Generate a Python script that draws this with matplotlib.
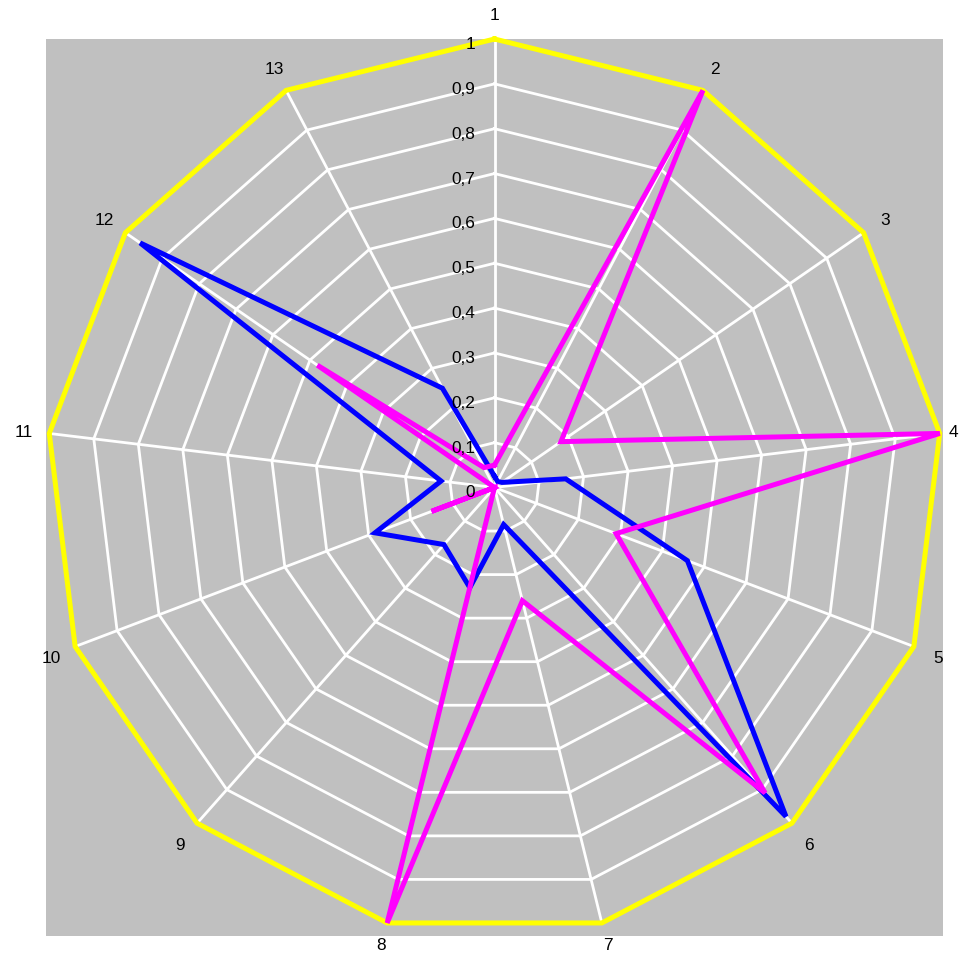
import numpy as np
import matplotlib
matplotlib.use("Agg")
import matplotlib.pyplot as plt

plt.rcParams['font.family'] = ['Liberation Sans', 'DejaVu Sans']

categories = ['1', '2', '3', '4', '5', '6', '7', '8', '9', '10', '11', '12', '13']
series_yellow = [1.0, 1.0, 1.0, 1.0, 1.0, 1.0, 1.0, 1.0, 1.0, 1.0, 1.0, 1.0, 1.0]
series_blue = [0.025, 0.015, 0.02, 0.16, 0.46, 0.98, 0.085, 0.23, 0.17, 0.285, 0.12, 0.96, 0.25]
series_magenta = [0.05, 1.0, 0.18, 1.0, 0.29, 0.91, 0.26, 1.0, 0.0, 0.15, 0.0, 0.48, 0.05]
tick_values = [0, 0.1, 0.2, 0.3, 0.4, 0.5, 0.6, 0.7, 0.8, 0.9, 1]
tick_labels = ['0', '0,1', '0,2', '0,3', '0,4', '0,5', '0,6', '0,7', '0,8', '0,9', '1']

n = len(categories)
theta = 2 * np.pi * np.arange(n) / n
sx = np.sin(theta)
sy = np.cos(theta)

fig = plt.figure(figsize=(9.59, 9.54), dpi=100)
ax = fig.add_axes([46 / 959, (954 - 937) / 954, 897 / 959, 897 / 954])
ax.set_xlim(-1, 1)
ax.set_ylim(-1, 1)
ax.set_facecolor('#c0c0c0')
for s in ax.spines.values():
    s.set_visible(False)
ax.set_xticks([])
ax.set_yticks([])

# web grid
for v in tick_values[1:]:
    xs = np.append(v * sx, v * sx[0])
    ys = np.append(v * sy, v * sy[0])
    ax.plot(xs, ys, color='white', lw=2, zorder=1)
for k in range(n):
    ax.plot([0, sx[k]], [0, sy[k]], color='white', lw=2, zorder=1)


def draw(vals, color, z):
    v = np.array(vals)
    xs = np.append(v * sx, v[0] * sx[0])
    ys = np.append(v * sy, v[0] * sy[0])
    ax.plot(xs, ys, color=color, lw=3.6, zorder=z, solid_joinstyle='miter',
            clip_on=False)


draw(series_yellow, '#ffff00', 3)
draw(series_blue, '#0000ff', 4)
draw(series_magenta, '#ff00ff', 5)

for v, t in zip(tick_values, tick_labels):
    ax.text(-0.0435, v - 0.020, t, ha='right', va='baseline', fontsize=12.4,
            color='black', zorder=6)

half_px = 448.5
cx_px, cy_px = 494.5, 488.5
for k, c in enumerate(categories):
    r = 1.058
    x = r * sx[k]
    y = r * sy[k]
    ha = 'center'
    # keep labels inside the figure
    if cx_px + x * half_px + 5 > 958:
        x = (958 - cx_px) / half_px
        ha = 'right'
    if cy_px - y * half_px + 8 > 953:
        y = (cy_px - 944) / half_px
    ax.text(x, y, c, ha=ha, va='center_baseline', fontsize=12.4,
            color='black', clip_on=False)

fig.savefig('out.png', dpi=100, facecolor='white')
